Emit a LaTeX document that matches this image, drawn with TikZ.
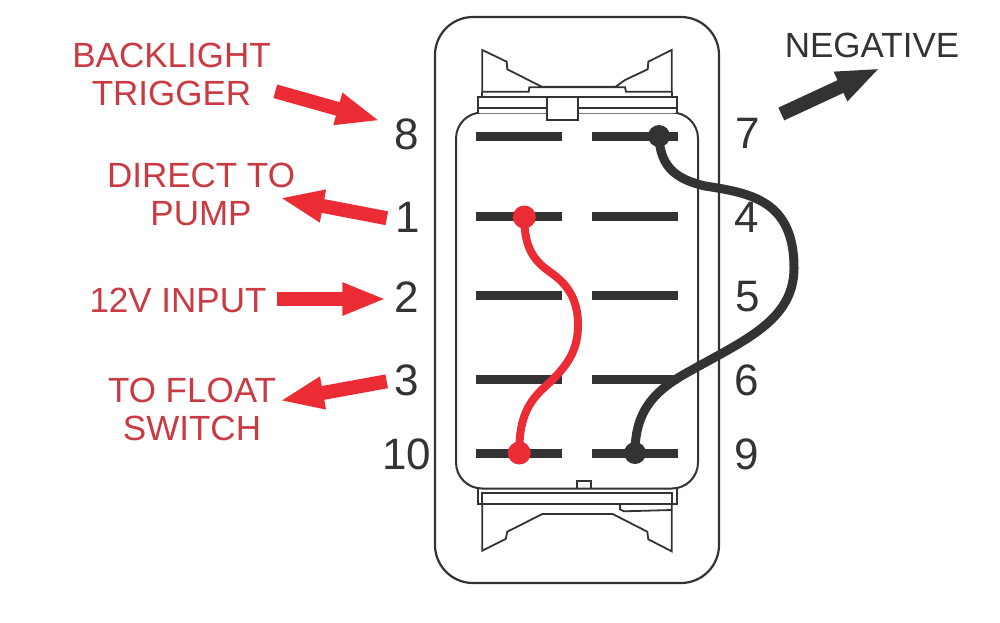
\documentclass[tikz,border=0pt]{standalone}
\usepackage{xcolor}
\usepackage{fontspec}
\setmainfont{Liberation Sans}
\usepackage{tikz}
\usetikzlibrary{arrows.meta}
\definecolor{darkink}{HTML}{333333}
\definecolor{wirered}{HTML}{EC2C34}
\definecolor{labelred}{HTML}{C93A42}

\begin{document}
\begin{tikzpicture}
        [x=1pt,y=-1pt,
        housing/.style={rectangle,draw=darkink,line width=2.2pt,rounded corners=38pt,minimum width=284pt,minimum height=566pt,inner sep=0},
        rocker/.style={rectangle,draw=darkink,line width=2pt,rounded corners=26pt,minimum width=242pt,minimum height=376pt,inner sep=0},
        contact/.style={rectangle,fill=darkink,minimum width=86pt,minimum height=9pt,inner sep=0},
        outline/.style={draw=darkink,line width=1.8pt,line join=miter},
        redlabel/.style={text=labelred,font=\fontsize{35}{38}\selectfont,align=center,inner sep=0},
        blacklabel/.style={text=darkink,font=\fontsize{35}{38}\selectfont,inner sep=0},
        pin/.style={text=darkink,font=\fontsize{44}{44}\selectfont,inner sep=0},
        reddot/.style={circle,fill=wirered,minimum size=23pt,inner sep=0},
        blackdot/.style={circle,fill=darkink,minimum size=22pt,inner sep=0},
        redwire/.style={draw=wirered,line width=8pt},
        blackwire/.style={draw=darkink,line width=9pt},
        redarrow/.style={-{Triangle[length=44pt,width=30pt]},shorten >=-3pt,wirered,line width=14pt},
        blackarrow/.style={-{Triangle[length=44pt,width=29pt]},shorten >=-3pt,darkink,line width=14pt}]

\useasboundingbox (0,0) rectangle (1000,622);

\begin{scope}

% body
\node[housing] at (577,300) (outer) {};
\node[rocker] at (577,300.5) (inner) {};

% top of the rocker
\draw[outline] (482.3,91.7) -- (482.3,50) -- (506.7,61.7) -- (507.3,69.3) -- (541.7,86.7) -- (615.7,86.7) -- (625,80) -- (647.7,69.3) -- (648.3,61.7) -- (671.7,50) -- (671.7,91.7) -- (626,91.7) -- (625,87.3) -- (529.3,87.3) -- (528.7,91.7) -- cycle;
\draw[outline] (482.3,91.7) -- (482.3,97.3);
\draw[outline] (671.7,91.7) -- (671.7,97.3);
\draw[outline,fill=white] (477.7,112.7) -- (477.7,97.3) -- (677,97.3) -- (677,112.7);
\draw[outline] (477.7,107.7) -- (677,107.7);
\draw[outline,fill=white] (547.3,97.3) -- (547.3,120) -- (577.7,120) -- (577.7,97.3) -- cycle;

% bottom of the rocker
\draw[outline] (577,488) -- (577,480.7) -- (591.3,480.7) -- (591.3,488);
\draw[outline] (477.7,489) -- (477.7,504.3) -- (677,504.3) -- (677,489);
\draw[outline] (482.3,504.3) -- (482.3,493.3) -- (671.7,493.3) -- (671.7,504.3);
\draw[outline] (482.3,504.3) -- (482.3,550.7) -- (505.7,539) -- (507.3,531.7) -- (542.3,514) -- (612.7,514) -- (647.3,531.7) -- (648.3,539.3) -- (671.7,551.3) -- (671.7,504.3);
\draw[outline] (620,504.3) -- (620,509.3) -- (624,511.3) -- (671.7,510);

% contacts
\node[contact] at (519,136) (barleftA) {};
\node[contact] at (519,216.5) (barleftB) {};
\node[contact] at (519,295.5) (barleftC) {};
\node[contact] at (519,379) (barleftD) {};
\node[contact] at (519,453.5) (barleftE) {};
\node[contact] at (635,136) (barrightA) {};
\node[contact] at (635,216.5) (barrightB) {};
\node[contact] at (635,295.5) (barrightC) {};
\node[contact] at (635,379) (barrightD) {};
\node[contact] at (635,453.5) (barrightE) {};

% pin numbers
\node[pin] at (407,134) (pineight) {8};
\node[pin] at (408,217) (pinone) {1};
\node[pin] at (407,297) (pintwo) {2};
\node[pin] at (407,380) (pinthree) {3};
\node[pin] at (407,454) (pinten) {10};
\node[pin] at (748,133) (pinseven) {7};
\node[pin] at (747,217) (pinfour) {4};
\node[pin] at (748,297) (pinfive) {5};
\node[pin] at (747,380) (pinsix) {6};
\node[pin] at (747,454) (pinnine) {9};

% labels
\node[redlabel] at (171.5,74.5) (backlight) {BACKLIGHT\\TRIGGER};
\node[redlabel] at (201,194.5) (pump) {DIRECT TO\\PUMP};
\node[redlabel] at (178,300) (input) {12V INPUT};
\node[redlabel] at (192,409.5) (float) {TO FLOAT\\SWITCH};
\node[blacklabel] at (872,45.5) (negative) {NEGATIVE};

% jumper ends
\node[reddot] at (524.3,217) (redtop) {};
\node[reddot] at (519.3,453) (redbottom) {};
\node[blackdot] at (659,136) (blacktop) {};
\node[blackdot] at (635,453) (blackbottom) {};

% arrow ends
\coordinate (backlighttail) at (275.3,91.3);
\coordinate (backlighttip) at (377.3,120);
\coordinate (pumptail) at (386.8,218.2);
\coordinate (pumptip) at (282.7,198.3);
\coordinate (inputtail) at (277,299);
\coordinate (inputtip) at (383.3,299);
\coordinate (floattail) at (386.7,381.3);
\coordinate (floattip) at (282.7,400.3);
\coordinate (negativetail) at (781.3,114);
\coordinate (negativetip) at (877.7,69.3);

%arrows
\draw[redarrow] (backlighttail) -- (backlighttip);
\draw[redarrow] (pumptail) -- (pumptip);
\draw[redarrow] (inputtail) -- (inputtip);
\draw[redarrow] (floattail) -- (floattip);
\draw[blackarrow] (negativetail) -- (negativetip);

%jumpers
\draw[redwire] (redtop.center) .. controls (524,250) and (536,262) .. (550,272) .. controls (572,287) and (578,305) .. (578,325) .. controls (578,352) and (566,367) .. (547,385) .. controls (527,402) and (519,420) .. (redbottom.center);
\draw[blackwire] (blacktop.center) .. controls (660,170) and (680,180) .. (705,186) .. controls (750,193) and (794,200) .. (794,268) .. controls (794,320) and (745,340) .. (690,371) .. controls (655,390) and (635,410) .. (blackbottom.center);

\end{scope}

\end{tikzpicture}
\end{document}
